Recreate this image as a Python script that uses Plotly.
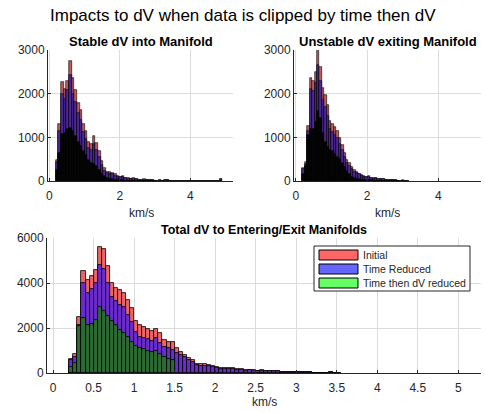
import numpy as np
import plotly.graph_objects as go

# ---------------- data ----------------
# Top-left: Stable dV into Manifold (bin width 0.075, first edge 0.18)
tl_start, tl_width = 0.18, 0.075
tl_initial = [480, 1300, 2270, 2100, 2290, 2740, 2370, 2080, 1790, 1615, 1300, 1140, 900, 850, 1020, 870,
              680, 450, 290, 215, 200, 180, 150, 120, 100, 110, 80, 60, 50, 60, 40, 30, 30, 40, 30, 20,
              15, 10, 10, 15, 10, 30, 25, 0, 0, 0, 0, 0, 0, 0, 0, 0, 0, 0, 0, 0, 0, 0, 0, 0, 0, 0, 40]
tl_time = [430, 1150, 2000, 1880, 2080, 2420, 2000, 1800, 1550, 1400, 1120, 970, 760, 720, 840, 700,
           550, 370, 240, 180, 170, 150, 120, 100, 85, 90, 70, 50, 40, 50, 35, 25, 25, 30, 25, 15,
           12, 8, 8, 12, 8, 25, 20, 0, 0, 0, 0, 0, 0, 0, 0, 0, 0, 0, 0, 0, 0, 0, 0, 0, 0, 0, 35]
tl_timedv = [250, 650, 1080, 1100, 1180, 1220, 1150, 1030, 900, 800, 680, 590, 480, 420, 400, 340,
             260, 170, 110, 70, 50, 40, 30, 20, 15, 15, 10, 8, 6, 6, 4, 3, 3, 3, 2, 1, 1, 1]

# Top-right: Unstable dV exiting Manifold (bin width 0.068, first edge 0.186)
tr_start, tr_width = 0.186, 0.068
tr_initial = [300, 430, 1250, 2370, 2300, 2500, 3050, 2600, 2140, 1980, 1750, 1370, 1300, 1230, 1140,
              985, 830, 640, 485, 410, 310, 250, 215, 170, 140, 120, 100, 110, 70, 60, 80, 50, 40, 45,
              30, 25, 20, 30, 15, 10, 8, 12, 6, 5]
tr_time = [280, 400, 1150, 2100, 2050, 2250, 2650, 2300, 1850, 1700, 1500, 1180, 1120, 1060, 980,
           850, 710, 550, 420, 350, 270, 215, 185, 150, 120, 100, 85, 95, 60, 50, 70, 45, 35, 40,
           25, 22, 18, 25, 12, 8, 6, 10, 5, 4]
tr_timedv = [150, 350, 1050, 1200, 1200, 1350, 1600, 1450, 1100, 900, 780, 720, 680, 620, 560, 500,
             420, 330, 220, 150, 100, 70, 50, 40, 30, 25, 20, 20, 15, 10, 10, 8, 6, 6, 4, 3, 2, 2, 1, 1]

# Bottom: Total dV to Entering/Exit Manifolds (bin width 0.05, first edge 0.20)
bt_start, bt_width = 0.20, 0.05
bt_initial = [610, 850, 2480, 4550, 4130, 4300, 4580, 5600, 5500, 4750, 4000, 3780, 3680, 3560, 3250,
              2870, 2330, 2130, 2050, 1960, 1880, 1950, 1760, 1480, 1400, 1380, 1100, 950, 800, 650,
              580, 420, 390, 400, 370, 330, 280, 230, 220, 220, 210, 180, 160, 130, 150, 120, 110,
              120, 90, 110, 100, 80, 60, 50, 60, 40, 50, 30, 40, 30, 20, 15, 10, 10, 30, 10, 5]
bt_time = [560, 720, 2150, 4000, 3550, 3720, 3980, 4800, 4620, 4000, 3400, 3180, 3030, 2950, 2600,
           2280, 1840, 1620, 1570, 1500, 1440, 1540, 1330, 1150, 1100, 1030, 900, 800, 700, 580,
           500, 350, 320, 330, 300, 280, 240, 200, 190, 190, 180, 150, 140, 110, 130, 100, 95,
           100, 75, 95, 85, 70, 50, 40, 50, 35, 45, 25, 35, 25, 15, 12, 8, 8, 25, 8, 4]
bt_timedv = [280, 430, 2090, 2430, 2130, 2180, 2350, 2950, 2750, 2550, 2330, 2130, 1910, 1790, 1610,
             1390, 1200, 1120, 1050, 1000, 950, 1000, 850, 700, 620, 600]

series_names = ["Initial", "Time Reduced", "Time then dV reduced"]
legend_colors = ["#FF6666", "#6666FF", "#66FF66"]
top_colors = ["#C05A5A", "#4B2896", "#050505"]
bot_colors = ["#EE6464", "#6A2CCB", "#2E6B34"]

W, H = 485, 413
FONT = "Liberation Sans, Arial, sans-serif"
TXT = "#262626"


def centers(start, width, n):
    return start + width * (np.arange(n) + 0.5)


fig = go.Figure()


def add_hist(start, width, vals_list, colors, xa, ya, lw):
    for vals, col, name in zip(vals_list, colors, series_names):
        fig.add_trace(go.Bar(
            x=centers(start, width, len(vals)), y=vals, width=width, name=name,
            marker=dict(color=col, line=dict(color="#000000", width=lw)),
            xaxis=xa, yaxis=ya, showlegend=False))


add_hist(tl_start, tl_width, [tl_initial, tl_time, tl_timedv], top_colors, "x", "y", 0.6)
add_hist(tr_start, tr_width, [tr_initial, tr_time, tr_timedv], top_colors, "x2", "y2", 0.6)
add_hist(bt_start, bt_width, [bt_initial, bt_time, bt_timedv], bot_colors, "x3", "y3", 0.8)


def px_x(p):
    return p / W


def px_y(p):
    return 1 - p / H


ax_common = dict(showgrid=True, gridcolor="#dcdcdc", gridwidth=1, zeroline=False,
                 showline=True, linecolor=TXT, linewidth=1, ticks="inside", ticklen=3,
                 tickcolor=TXT, tickfont=dict(family=FONT, size=12, color=TXT),
                 automargin=False, mirror=False)
x_extra = dict(ticklabelstandoff=4)

fig.update_layout(
    width=W, height=H, margin=dict(l=0, r=0, t=0, b=0),
    paper_bgcolor="white", plot_bgcolor="white", barmode="overlay", bargap=0,
    font=dict(family=FONT, color=TXT),
    xaxis=dict(domain=[px_x(48), px_x(233)], range=[-0.04, 5.21], tickvals=[0, 2, 4], anchor="y", **ax_common, **x_extra),
    yaxis=dict(domain=[px_y(181), px_y(50)], range=[0, 3000], tickvals=[0, 1000, 2000, 3000], anchor="x", **ax_common),
    xaxis2=dict(domain=[px_x(294), px_x(481)], range=[-0.05, 5.2], tickvals=[0, 2, 4], anchor="y2", **ax_common, **x_extra),
    yaxis2=dict(domain=[px_y(181), px_y(50)], range=[0, 3000], tickvals=[0, 1000, 2000, 3000], anchor="x2", **ax_common),
    xaxis3=dict(domain=[px_x(47), px_x(481)], range=[-0.075, 5.28], dtick=0.5, tick0=0, anchor="y3", **ax_common, **x_extra),
    yaxis3=dict(domain=[px_y(373), px_y(238)], range=[0, 6000], tickvals=[0, 2000, 4000, 6000], anchor="x3", **ax_common),
)

ann = []


def text(x, y, s, size, bold=False, xanchor="center", color=None):
    ann.append(dict(x=px_x(x), y=px_y(y), xref="paper", yref="paper", text=("<b>%s</b>" % s) if bold else s,
                    showarrow=False, xanchor=xanchor, yanchor="middle",
                    font=dict(family=FONT, size=size, color=color or TXT)))


text(243, 15, "Impacts to dV when data is clipped by time then dV", 17, color="#000000")
text(141, 41, "Stable dV into Manifold", 13, bold=True, color="#000000")
text(388, 41, "Unstable dV exiting Manifold", 13, bold=True, color="#000000")
text(264, 230, "Total dV to Entering/Exit Manifolds", 12.5, bold=True, color="#000000")
text(141, 213, "km/s", 12)
text(387, 213, "km/s", 12)
text(264, 402, "km/s", 12)

# legend (manual, MATLAB style)
shapes = [dict(type="rect", xref="paper", yref="paper", x0=px_x(314), x1=px_x(470), y0=px_y(291), y1=px_y(246),
               line=dict(color=TXT, width=1), fillcolor="white")]
rows = [255, 269, 283]
for name, col, ry in zip(series_names, legend_colors, rows):
    shapes.append(dict(type="rect", xref="paper", yref="paper", x0=px_x(319), x1=px_x(358),
                       y0=px_y(ry + 5), y1=px_y(ry - 5), line=dict(color="#000000", width=1), fillcolor=col))
    ann.append(dict(x=px_x(361), y=px_y(ry), xref="paper", yref="paper", text=name, showarrow=False,
                    xanchor="left", yanchor="middle", font=dict(family=FONT, size=10.5, color=TXT)))

fig.update_layout(annotations=ann, shapes=shapes)
fig.write_html("out.html")
